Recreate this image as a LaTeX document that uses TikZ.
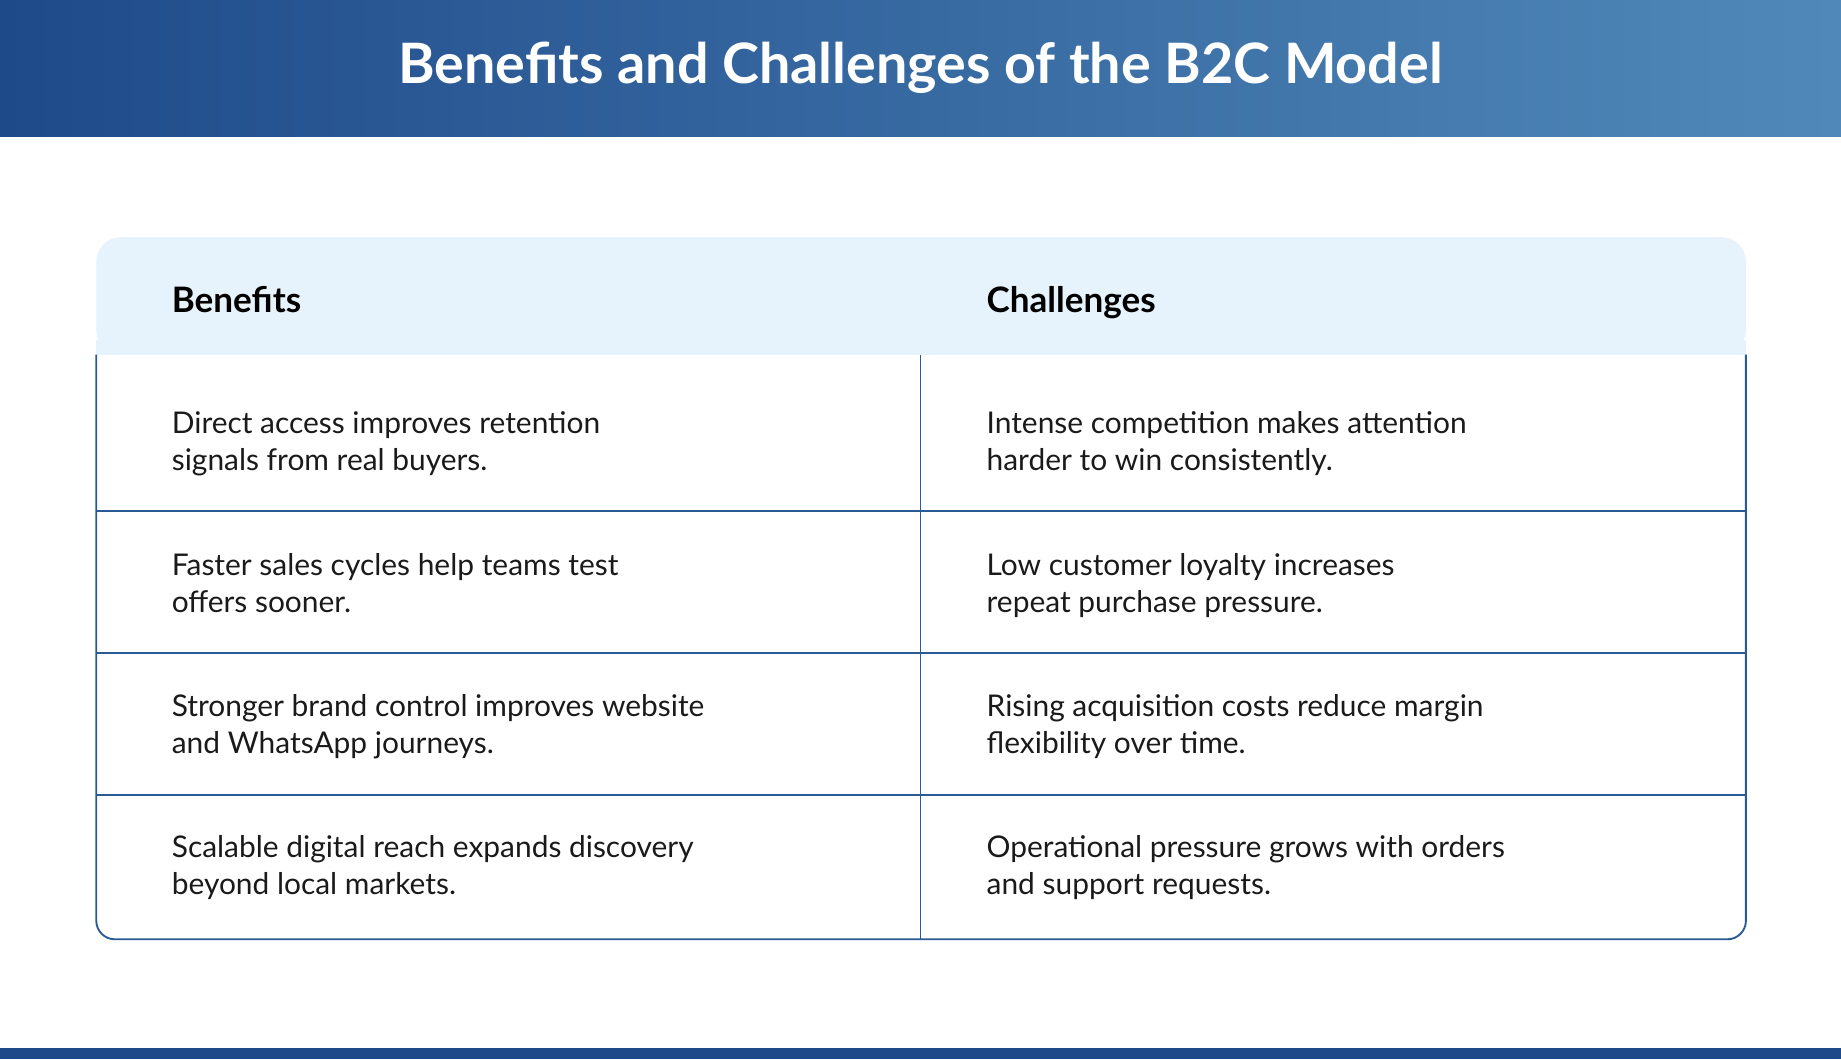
\documentclass[tikz,border=0pt]{standalone}
\usepackage{fontspec}
\setmainfont{Lato}
\definecolor{hdA}{HTML}{1F4A8A}
\definecolor{hdB}{HTML}{5089B9}
\definecolor{rowbg}{HTML}{E6F2FC}
\definecolor{ln}{HTML}{2A5A94}
\definecolor{txt}{HTML}{1A1A1A}
\begin{document}
\begin{tikzpicture}[x=0.02cm,y=-0.02cm,
  title/.style={font=\fontsize{27}{30}\selectfont\bfseries, text=white},
  colhead/.style={anchor=base west, font=\fontsize{17}{20}\selectfont\bfseries, text=black, inner sep=0},
  cell/.style={anchor=base west, align=left, font=\fontsize{14.5}{18.1}\selectfont, text=txt, inner sep=0},
  grid/.style={draw=ln, line width=0.9pt}]
\useasboundingbox (0,0) rectangle (1568,902);
\fill[white] (0,0) rectangle (1568,902);
\shade[left color=hdA, right color=hdB] (0,0) rectangle (1568,116);
\node[title] (t) at (784,58) {Benefits and Challenges of the B2C Model};
\fill[rowbg, rounded corners=12] (82,302) -- (82,202) -- (1487,202) -- (1487,302) -- cycle;
\fill[rowbg] (82,290) rectangle (1487,302);
\draw[grid, rounded corners=9] (82,302) -- (82,800) -- (1487,800) -- (1487,302);
\foreach \y in {435,556,677} \draw[grid] (82,\y) -- (1487,\y);
\draw[grid] (784,302) -- (784,800);
\node[colhead] (hb) at (146,266) {Benefits};
\node[colhead] (hc) at (840,266) {Challenges};
\node[cell] (b1) at (146,401) {Direct access improves retention\\signals from real buyers.};
\node[cell] (c1) at (840,401) {Intense competition makes attention\\harder to win consistently.};
\node[cell] (b2) at (146,522) {Faster sales cycles help teams test\\offers sooner.};
\node[cell] (c2) at (840,522) {Low customer loyalty increases\\repeat purchase pressure.};
\node[cell] (b3) at (146,642) {Stronger brand control improves website\\and WhatsApp journeys.};
\node[cell] (c3) at (840,642) {Rising acquisition costs reduce margin\\flexibility over time.};
\node[cell] (b4) at (146,762) {Scalable digital reach expands discovery\\beyond local markets.};
\node[cell] (c4) at (840,762) {Operational pressure grows with orders\\and support requests.};
\fill[hdA] (0,893) rectangle (1568,902);
\end{tikzpicture}
\end{document}
